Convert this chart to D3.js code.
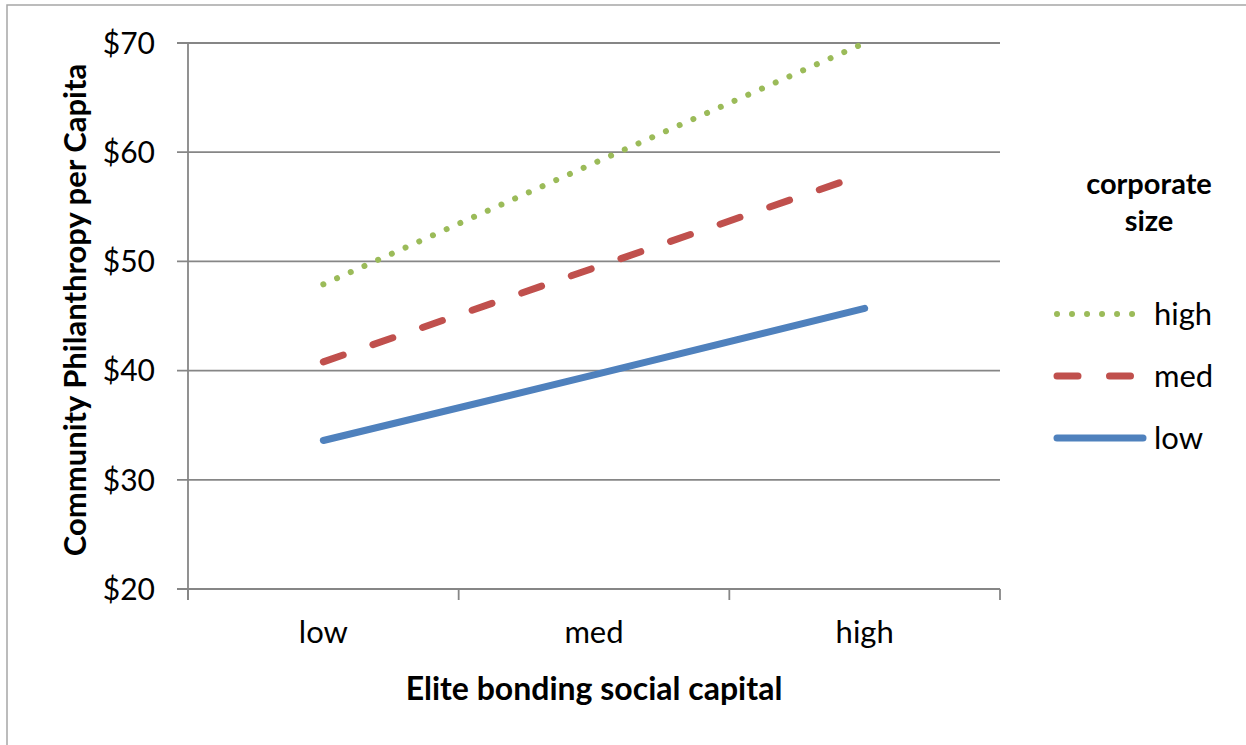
<!DOCTYPE html>
<html>
<head>
<meta charset="utf-8">
<script src="https://cdn.jsdelivr.net/npm/d3@7"></script>
<style>
  body { margin: 0; background: #fff; }
  svg text { font-family: Lato, "Open Sans", sans-serif; fill: #000; }
</style>
</head>
<body>
<div id="chart"></div>
<script>
const categories = ["low", "med", "high"];
const seriesNames = ["high", "med", "low"];
const highValues = [47.9, 59.0, 70.0];
const medValues = [40.8, 49.4, 58.0];
const lowValues = [33.6, 39.6, 45.7];
const yTicks = [20, 30, 40, 50, 60, 70];

const width = 1246, height = 745;
const plot = { left: 188, right: 1000, top: 43, bottom: 589 };

const svg = d3.select("#chart")
    .append("svg")
    .attr("width", width)
    .attr("height", height);

// outer chart border (only top and left visible)
svg.append("path")
    .attr("d", `M7,${height} L7,5 L${width},5`)
    .attr("fill", "none")
    .attr("stroke", "#a6a6a6")
    .attr("stroke-width", 1.5);

const x = d3.scaleBand().domain(categories).range([plot.left, plot.right]);
const y = d3.scaleLinear().domain([20, 70]).range([plot.bottom, plot.top]);

// gridlines + y ticks
svg.append("g")
    .selectAll("line")
    .data(yTicks)
    .join("line")
    .attr("x1", plot.left - 11)
    .attr("x2", plot.right)
    .attr("y1", d => y(d))
    .attr("y2", d => y(d))
    .attr("stroke", "#868686")
    .attr("stroke-width", 1.8);

svg.append("g")
    .selectAll("text")
    .data(yTicks)
    .join("text")
    .attr("x", 155)
    .attr("y", d => y(d))
    .attr("dy", "0.36em")
    .attr("text-anchor", "end")
    .style("font-size", "30px")
    .text(d => "$" + d);

// y axis line
svg.append("line")
    .attr("x1", plot.left).attr("x2", plot.left)
    .attr("y1", plot.top).attr("y2", plot.bottom + 11)
    .attr("stroke", "#868686")
    .attr("stroke-width", 1.8);

// x tick marks between categories
const xTickPos = categories.map(c => x(c)).concat([x(categories[categories.length - 1]) + x.bandwidth()]);
svg.append("g")
    .selectAll("line")
    .data(xTickPos)
    .join("line")
    .attr("x1", d => d).attr("x2", d => d)
    .attr("y1", plot.bottom).attr("y2", plot.bottom + 11)
    .attr("stroke", "#868686")
    .attr("stroke-width", 1.8);

svg.append("g")
    .selectAll("text")
    .data(categories)
    .join("text")
    .attr("x", d => x(d) + x.bandwidth() / 2)
    .attr("y", 643)
    .attr("text-anchor", "middle")
    .style("font-size", "31px")
    .text(d => d);

// axis titles
svg.append("text")
    .attr("x", (plot.left + plot.right) / 2)
    .attr("y", 700)
    .attr("text-anchor", "middle")
    .style("font-size", "32px")
    .style("font-weight", "bold")
    .text("Elite bonding social capital");

svg.append("text")
    .attr("transform", "translate(86,310) rotate(-90)")
    .attr("text-anchor", "middle")
    .style("font-size", "31px")
    .style("font-weight", "bold")
    .text("Community Philanthropy per Capita");

// series
const styles = {
    high: { color: "#9bbb59", width: 6, dash: "0.01 15" },
    med: { color: "#c0504d", width: 7, dash: "21 31.5" },
    low: { color: "#4f81bd", width: 7, dash: null }
};
const seriesData = { high: highValues, med: medValues, low: lowValues };

const line = d3.line()
    .x((d, i) => x(categories[i]) + x.bandwidth() / 2)
    .y(d => y(d));

seriesNames.forEach(name => {
    const s = styles[name];
    svg.append("path")
        .datum(seriesData[name])
        .attr("d", line)
        .attr("fill", "none")
        .attr("stroke", s.color)
        .attr("stroke-width", s.width)
        .attr("stroke-linecap", "round")
        .attr("stroke-dasharray", s.dash);
});

// legend
svg.append("text")
    .attr("x", 1149).attr("y", 194)
    .attr("text-anchor", "middle")
    .style("font-size", "29px")
    .style("font-weight", "bold")
    .text("corporate");
svg.append("text")
    .attr("x", 1149).attr("y", 231)
    .attr("text-anchor", "middle")
    .style("font-size", "29px")
    .style("font-weight", "bold")
    .text("size");

const legendY = d3.scalePoint().domain(seriesNames).range([314, 438]);
const legend = svg.append("g")
    .selectAll("g")
    .data(seriesNames)
    .join("g")
    .attr("transform", d => `translate(0,${legendY(d)})`);

legend.append("line")
    .attr("x1", 1057).attr("x2", 1143)
    .attr("stroke", d => styles[d].color)
    .attr("stroke-width", d => styles[d].width)
    .attr("stroke-linecap", "round")
    .attr("stroke-dasharray", d => styles[d].dash);

legend.append("text")
    .attr("x", 1154)
    .attr("dy", "0.36em")
    .style("font-size", "31px")
    .text(d => d);
</script>
</body>
</html>
